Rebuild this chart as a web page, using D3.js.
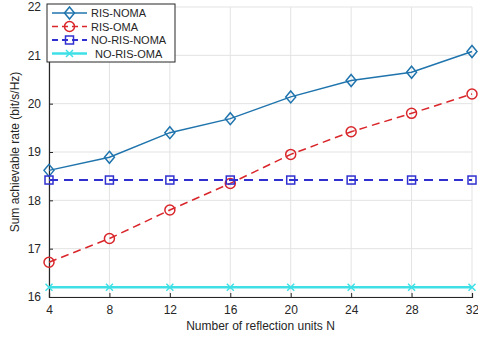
<!DOCTYPE html>
<html>
<head>
<meta charset="utf-8">
<script src="https://cdn.jsdelivr.net/npm/d3@7"></script>
<style>
  body { margin: 0; background: #fff; }
  text { font-family: "Liberation Sans", Arial, sans-serif; fill: #262626; }
</style>
</head>
<body>
<div id="chart"></div>
<script>
// data
const units = [4, 8, 12, 16, 20, 24, 28, 32];
const risNoma = [18.62, 18.89, 19.40, 19.69, 20.14, 20.48, 20.65, 21.08];
const risOma = [16.72, 17.21, 17.80, 18.35, 18.95, 19.42, 19.80, 20.20];
const noRisNoma = [18.42, 18.42, 18.42, 18.42, 18.42, 18.42, 18.42, 18.42];
const noRisOma = [16.2, 16.2, 16.2, 16.2, 16.2, 16.2, 16.2, 16.2];
const yTicks = [16, 17, 18, 19, 20, 21, 22];
const seriesNames = ["RIS-NOMA", "RIS-OMA", "NO-RIS-NOMA", "NO-RIS-OMA"];

const width = 478, height = 343;
const margins = { top: 7, right: 6, bottom: 46, left: 49 };

const svg = d3.select("#chart").append("svg")
    .attr("width", width)
    .attr("height", height);

const x = d3.scaleLinear().domain([4, 32]).range([margins.left, width - margins.right]);
const y = d3.scaleLinear().domain([16, 22]).range([height - margins.bottom, margins.top]);

// grid
const grid = svg.append("g");
grid.selectAll(".gx").data(units).enter().append("line")
    .attr("x1", d => x(d)).attr("x2", d => x(d))
    .attr("y1", y(16)).attr("y2", y(22))
    .style("stroke", "#e3e3e3").style("stroke-width", 1);
grid.selectAll(".gy").data(yTicks).enter().append("line")
    .attr("x1", x(4)).attr("x2", x(32))
    .attr("y1", d => y(d)).attr("y2", d => y(d))
    .style("stroke", "#e3e3e3").style("stroke-width", 1);

// axes
const xAxis = svg.append("g")
    .attr("transform", `translate(0, ${y(16)})`)
    .call(d3.axisBottom(x).tickValues(units).tickFormat(d3.format("d")).tickSize(-4).tickPadding(8));
const yAxis = svg.append("g")
    .attr("transform", `translate(${x(4)}, 0)`)
    .call(d3.axisLeft(y).tickValues(yTicks).tickFormat(d3.format("d")).tickSize(-4).tickPadding(8));

[xAxis, yAxis].forEach(a => {
    a.select(".domain").style("stroke", "#262626").style("stroke-width", 1.2);
    a.selectAll(".tick line").style("stroke", "#262626");
    a.selectAll("text").style("font-size", "12px").style("fill", "#262626");
});

svg.append("text")
    .attr("x", (x(4) + x(32)) / 2)
    .attr("y", 330)
    .attr("text-anchor", "middle")
    .style("font-size", "12px")
    .text("Number of reflection units N");

svg.append("text")
    .attr("transform", `translate(19, ${(y(16) + y(22)) / 2}) rotate(-90)`)
    .attr("text-anchor", "middle")
    .style("font-size", "12px")
    .text("Sum achievable rate (bit/s/Hz)");

// series
const series = [
    { name: seriesNames[0], values: risNoma, color: "#1f74ad", dash: null, marker: "diamond", lw: 1.5 },
    { name: seriesNames[1], values: risOma, color: "#d9262b", dash: "8,5", marker: "circle", lw: 1.5 },
    { name: seriesNames[2], values: noRisNoma, color: "#3030d0", dash: "9,6", marker: "square", lw: 2 },
    { name: seriesNames[3], values: noRisOma, color: "#3ee0e6", dash: null, marker: "cross", lw: 2.5 },
];

const line = d3.line().x(d => x(d[0])).y(d => y(d[1]));

function drawMarker(g, type, cx, cy, color) {
    if (type === "diamond") {
        g.append("path")
            .attr("d", `M${cx},${cy - 6}L${cx + 5},${cy}L${cx},${cy + 6}L${cx - 5},${cy}Z`)
            .style("fill", "none").style("stroke", color).style("stroke-width", 1.5);
    } else if (type === "circle") {
        g.append("circle").attr("cx", cx).attr("cy", cy).attr("r", 5)
            .style("fill", "none").style("stroke", color).style("stroke-width", 1.5);
    } else if (type === "square") {
        g.append("rect").attr("x", cx - 4).attr("y", cy - 4).attr("width", 8).attr("height", 8)
            .style("fill", "none").style("stroke", color).style("stroke-width", 1.5);
    } else if (type === "cross") {
        g.append("path")
            .attr("d", `M${cx - 3.5},${cy - 3.5}L${cx + 3.5},${cy + 3.5}M${cx - 3.5},${cy + 3.5}L${cx + 3.5},${cy - 3.5}`)
            .style("stroke", color).style("stroke-width", 1.5);
    }
}

series.forEach(s => {
    const pts = units.map((u, i) => [u, s.values[i]]);
    const g = svg.append("g");
    g.append("path")
        .attr("d", line(pts))
        .style("fill", "none")
        .style("stroke", s.color)
        .style("stroke-width", s.lw)
        .style("stroke-dasharray", s.dash);
    pts.forEach(p => drawMarker(g, s.marker, x(p[0]), y(p[1]), s.color));
});

// legend
const legend = svg.append("g").attr("transform", "translate(47, 4)");
legend.append("rect")
    .attr("width", 128).attr("height", 58)
    .style("fill", "#fff").style("stroke", "#262626").style("stroke-width", 1);
series.forEach((s, i) => {
    const ly = 9 + i * 13.5;
    legend.append("line")
        .attr("x1", 5).attr("x2", 40).attr("y1", ly).attr("y2", ly)
        .style("stroke", s.color).style("stroke-width", s.lw)
        .style("stroke-dasharray", s.dash ? "6,4" : null);
    drawMarker(legend, s.marker, 22.5, ly, s.color);
    legend.append("text")
        .attr("x", i === 3 ? 48 : 44).attr("y", ly + 4)
        .style("font-size", "11px")
        .text(s.name);
});
</script>
</body>
</html>
